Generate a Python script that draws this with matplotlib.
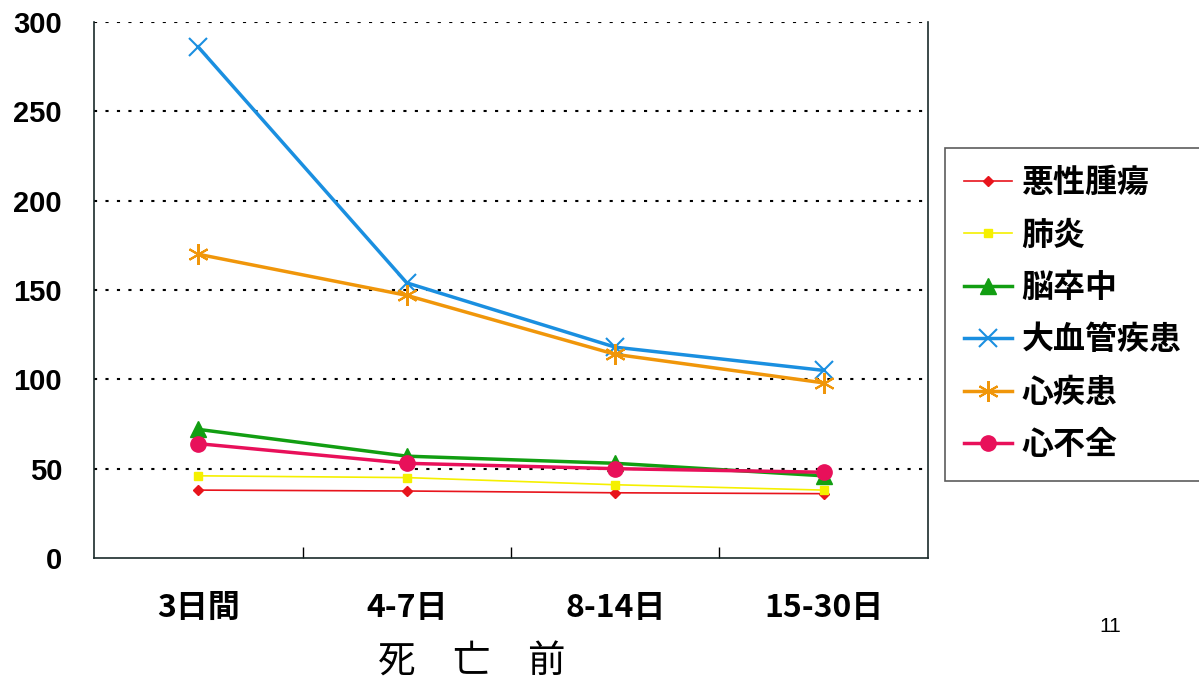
import matplotlib
matplotlib.use("Agg")
import matplotlib.pyplot as plt

plt.rcParams['font.family'] = ['Noto Sans CJK JP', 'DejaVu Sans']

categories = ["3日間", "4-7日", "8-14日", "15-30日"]
series_names = ["悪性腫瘍", "肺炎", "脳卒中", "大血管疾患", "心疾患", "心不全"]
malignant = [38, 37.5, 36.5, 36]
pneumonia = [46, 45, 41, 38]
stroke = [72, 57, 53, 46]
aortic = [286, 154, 118, 105]
heart = [170, 147, 114, 98]
heart_failure = [64, 53, 50, 48]
yticks = [0, 50, 100, 150, 200, 250, 300]

fig = plt.figure(figsize=(11.99, 6.81), dpi=100)
ax = fig.add_axes([94/1199, 1-558/681, (928-94)/1199, (558-22)/681])

x = list(range(len(categories)))
styles = [
    (malignant, "#e8141c", "D", 5, 1.2, 1.0),
    (pneumonia, "#f5f000", "s", 6, 1.2, 1.0),
    (stroke, "#129e12", "^", 11, 2.5, 1.0),
    (aortic, "#1a8fe0", "x", 13, 2.5, 1.5),
    (heart, "#f0960a", (6, 2, 0), 15, 2.5, 1.5),
    (heart_failure, "#e8105a", "o", 11, 2.5, 1.0),
]
for (vals, col, mk, ms, lw, mew), name in zip(styles, series_names):
    ax.plot(x, vals, color=col, marker=mk, markersize=ms, linewidth=lw,
            markeredgewidth=mew, markeredgecolor=col, label=name)

ax.set_xlim(-0.5, len(categories) - 0.5)
ax.set_ylim(0, 300)
ax.set_yticks(yticks)
ax.set_yticklabels([str(v) for v in yticks], fontsize=21, fontweight='bold',
                   family=['Liberation Sans', 'DejaVu Sans'])
for v in yticks[1:]:
    ax.axhline(v, color='black', linestyle=(0, (1.5, 4)), linewidth=1.5, zorder=0)
ax.set_xticks([0.5, 1.5, 2.5])
ax.set_xticklabels([])
ax.tick_params(axis='x', direction='in', length=8, width=1)
ax.tick_params(axis='y', length=0, pad=23)
for i, c in enumerate(categories):
    ax.text(i, -0.093, c, transform=ax.get_xaxis_transform(), ha='center', va='center',
            fontsize=23, fontweight='bold')
ax.text(1.31, -0.195, "死　亡　前", transform=ax.get_xaxis_transform(), ha='center',
        va='center', fontsize=27)

ax.spines['top'].set_visible(False)
for s in ['left', 'bottom', 'right']:
    ax.spines[s].set_linewidth(1.2)
    ax.spines[s].set_color('#1a2a2a')

leg = ax.legend(loc='upper left', bbox_to_anchor=(945/1199, 1-148/681),
                bbox_transform=fig.transFigure, prop={'size': 23, 'weight': 'bold'},
                frameon=True, fancybox=False, edgecolor='#333333', handlelength=1.5,
                labelspacing=0.64, borderpad=0.6, handletextpad=0.3, markerscale=1.0,
                borderaxespad=0)
leg.get_frame().set_linewidth(1.2)

fig.text(1110/1199, 1-627/681, "11", fontsize=15, ha='center', va='center',
         family=['Liberation Sans', 'DejaVu Sans'])

fig.savefig("out.png", dpi=100)
